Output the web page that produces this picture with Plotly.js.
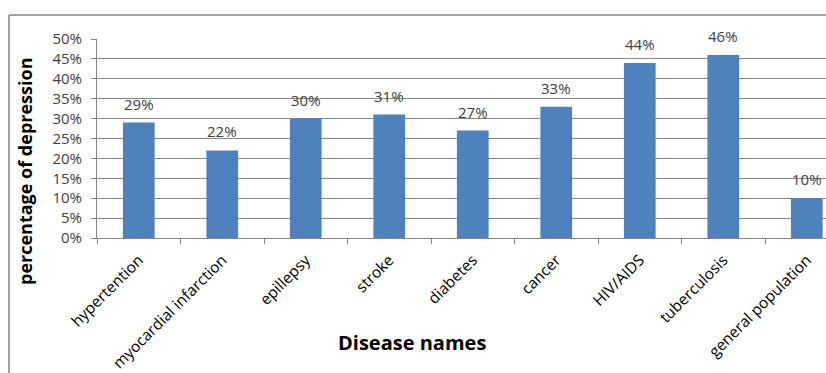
<!DOCTYPE html>
<html>
<head>
<meta charset="utf-8">
<script src="https://cdn.plot.ly/plotly-3.0.1.min.js"></script>
<style>html,body{margin:0;padding:0;background:#fff;}#chart{width:826px;height:373px;}</style>
</head>
<body>
<div id="chart"></div>
<script>
const categories = ["hypertention", "myocardial infarction", "epillepsy", "stroke", "diabetes", "cancer", "HIV/AIDS", "tuberculosis", "general population"];
const values = [0.29, 0.22, 0.30, 0.31, 0.27, 0.33, 0.44, 0.46, 0.10];
const yTickVals = [0, 0.05, 0.10, 0.15, 0.20, 0.25, 0.30, 0.35, 0.40, 0.45, 0.50];

const W = 826, H = 373, L = 97, R = 0, T = 39, B = 135;
const pw = W - L - R, ph = H - T - B;
const px = x => (x - L) / pw;
const py = y => 1 - (y - T) / ph;
const FONT = 'Open Sans, Liberation Sans, sans-serif';

const trace = {
  type: 'bar',
  x: categories,
  y: values,
  marker: {color: '#4F81BD'},
  width: 0.38,
  hoverinfo: 'none'
};

const labelAnnotations = categories.map((c, i) => ({
  x: c, y: values[i], xref: 'x', yref: 'y',
  text: Math.round(values[i] * 100) + '%',
  showarrow: false, yanchor: 'bottom', xanchor: 'center', yshift: 7,
  font: {family: FONT, size: 15, color: '#404040'}
}));

const layout = {
  width: W, height: H,
  margin: {l: L, r: R, t: T, b: B, pad: 0},
  paper_bgcolor: '#ffffff', plot_bgcolor: '#ffffff',
  showlegend: false,
  font: {family: FONT, size: 14, color: '#000'},
  xaxis: {
    type: 'category',
    range: [-0.5, (W - L - R) / 83.5 - 0.5],
    tickson: 'boundaries',
    ticks: 'outside', ticklen: 5, tickcolor: '#868686',
    showline: true, linecolor: '#868686', linewidth: 1,
    showgrid: false,
    tickangle: -45,
    ticklabelstandoff: 6,
    tickfont: {size: 15.5, color: '#000'},
    automargin: false
  },
  yaxis: {
    range: [0, 0.5],
    tickvals: yTickVals,
    tickformat: '.0%',
    ticks: 'outside', ticklen: 5, tickcolor: '#868686',
    showline: true, linecolor: '#868686', linewidth: 1,
    showgrid: true, gridcolor: '#868686', gridwidth: 1,
    zeroline: false,
    ticklabelstandoff: 6,
    tickfont: {size: 15, color: '#404040'},
    automargin: false
  },
  annotations: labelAnnotations.concat([
    {text: '<b>percentage of depression</b>', xref: 'paper', yref: 'paper', x: px(25), y: py(172),
     textangle: -90, showarrow: false, font: {size: 18, color: '#000'}, xanchor: 'center', yanchor: 'middle'},
    {text: '<b>Disease names</b>', xref: 'paper', yref: 'paper', x: px(412), y: py(342),
     showarrow: false, font: {size: 20, color: '#000'}, xanchor: 'center', yanchor: 'middle'}
  ]),
  shapes: [
    {type: 'line', xref: 'paper', yref: 'paper', x0: px(9), x1: px(830), y0: py(15), y1: py(15),
     line: {color: '#868686', width: 1.5}},
    {type: 'line', xref: 'paper', yref: 'paper', x0: px(9), x1: px(9), y0: py(15), y1: py(380),
     line: {color: '#868686', width: 1.5}}
  ]
};

Plotly.newPlot('chart', [trace], layout, {staticPlot: true, displayModeBar: false});
</script>
</body>
</html>
